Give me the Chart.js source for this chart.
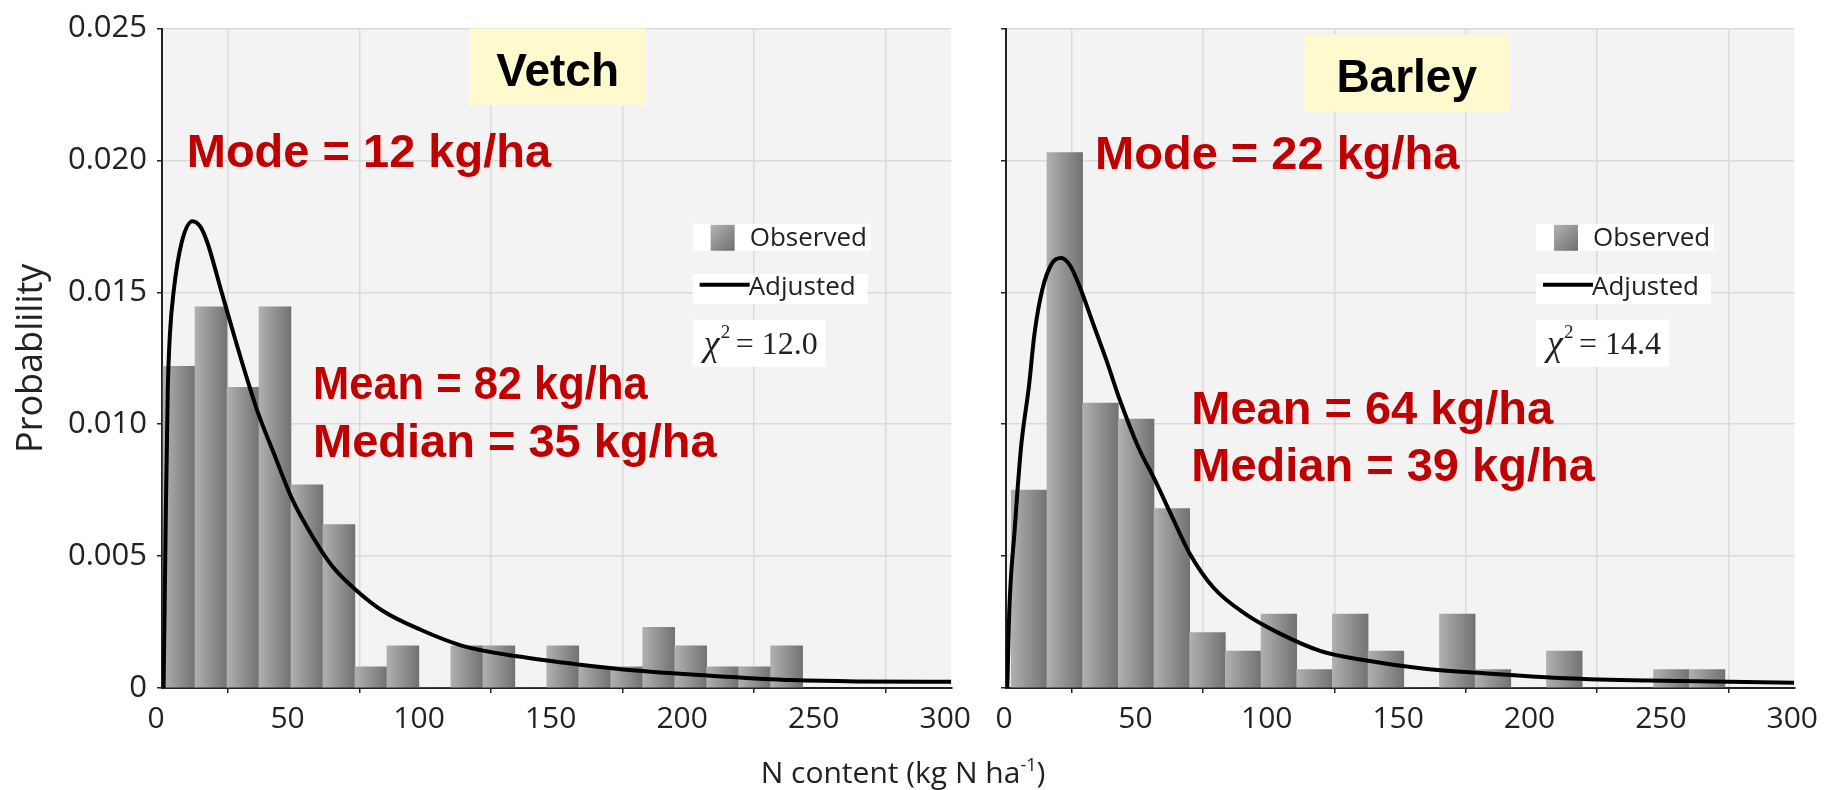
<!DOCTYPE html>
<html>
<head>
<meta charset="utf-8">
<title>N content distribution</title>
<script src="https://cdn.jsdelivr.net/npm/chart.js@4.4.1/dist/chart.umd.min.js"></script>
<style>
  body { margin: 0; background: #fff; width: 1828px; height: 790px; position: relative; overflow: hidden; }
  canvas { position: absolute; top: 0; }
  #vetchChart { left: 0; }
  #barleyChart { left: 985px; }
  #xTitle { position: absolute; left: 0; width: 1806px; top: 751px; text-align: center; font-family: 'Open Sans', sans-serif; font-size: 30px; line-height: 42px; color: #222; }
  #xTitle sup { font-size: 18px; line-height: 0; vertical-align: 12px; }
</style>
</head>
<body>
<canvas id="vetchChart" width="985" height="790"></canvas>
<canvas id="barleyChart" width="843" height="790"></canvas>
<div id="xTitle">N content (kg N ha<sup>-1</sup>)</div>
<script>
// histogram bin centres (kg N/ha) and observed probability per bin
var vetchBins = [6.48, 18.63, 30.79, 42.94, 55.10, 67.25, 79.41, 91.56, 103.72, 115.87,
                 128.03, 140.18, 152.34, 164.49, 176.65, 188.80, 200.96, 213.11, 225.27, 237.42];
var vetchObserved = [0.0122, 0.01445, 0.0114, 0.01445, 0.0077, 0.0062, 0.0008, 0.0016, 0, 0.0016,
                     0.0016, 0, 0.0016, 0.0008, 0.0008, 0.0023, 0.0016, 0.0008, 0.0008, 0.0016];
var barleyBins = [8.79, 22.37, 35.95, 49.53, 63.11, 76.69, 90.27, 103.85, 117.43, 131.01,
                  144.59, 158.17, 171.75, 185.33, 198.91, 212.49, 226.07, 239.65, 253.23, 266.81];
var barleyObserved = [0.0075, 0.0203, 0.0108, 0.0102, 0.0068, 0.0021, 0.0014, 0.0028, 0.0007, 0.0028,
                      0.0014, 0, 0.0028, 0.0007, 0, 0.0014, 0, 0, 0.0007, 0.0007];

// fitted ("Adjusted") density curves
var vetchFitX = [0.6, 1.0, 1.5, 2.2, 3.0, 4.5, 7.5, 11.6, 14.5, 17.2, 22.4, 27.6, 32.1, 36.6, 42.5,
                 49.3, 57.5, 64.9, 73.9, 84.3, 98.5, 114.2, 135, 159, 180, 214, 239, 264, 300];
var vetchFitY = [0, 0.0030, 0.0070, 0.0113, 0.0134, 0.0151, 0.0169, 0.0177, 0.0175, 0.0169, 0.0151,
                 0.0133, 0.0118, 0.0104, 0.0089, 0.0072, 0.0057, 0.0046, 0.0037, 0.0029, 0.0022,
                 0.0016, 0.0012, 0.00088, 0.00066, 0.00043, 0.0003, 0.00025, 0.00024];
var barleyFitX = [0.5, 1.2, 3.3, 5.7, 8.8, 10.8, 13.8, 17.5, 21, 24.5, 28.1, 33.2, 38.3, 43.4, 50.5,
                  56.6, 62.7, 69.9, 79, 91.2, 103.5, 119.8, 136, 158.5, 183, 213, 244, 300];
var barleyFitY = [0, 0.0028, 0.0060, 0.0091, 0.0115, 0.0134, 0.0151, 0.0161, 0.0163, 0.0160, 0.0152,
                  0.0138, 0.0124, 0.0109, 0.0091, 0.0079, 0.0066, 0.0051, 0.0038, 0.0028, 0.0021,
                  0.0014, 0.00106, 0.00074, 0.00055, 0.00037, 0.00028, 0.0002];

var yTickLabels = ['0', '0.005', '0.010', '0.015', '0.020', '0.025'];

var vetchNotes = ['Mode = 12 kg/ha', 'Mean = 82 kg/ha', 'Median = 35 kg/ha'];
var barleyNotes = ['Mode = 22 kg/ha', 'Mean = 64 kg/ha', 'Median = 39 kg/ha'];
var vetchChi = '12.0';
var barleyChi = '14.4';

var axisFont = { family: "'Open Sans', sans-serif", size: 30 };

// grey background, crop name box, red statistics and the small legend
var panelDecor = {
    id: 'panelDecor',
    beforeDraw: function (chart) {
        var a = chart.chartArea, ctx = chart.ctx;
        ctx.save();
        ctx.fillStyle = '#f3f3f3';
        ctx.fillRect(a.left, a.top, a.right - a.left, a.bottom - a.top);
        ctx.restore();
    },
    afterDatasetsDraw: function (chart, args, opts) {
        var ctx = chart.ctx, x = chart.scales.x, y = chart.scales.y;
        ctx.save();

        ctx.font = 'bold 46px "Liberation Sans", Arial, sans-serif';
        var tw = ctx.measureText(opts.name).width;
        var cx = x.getPixelForValue(opts.nameAt);
        var top = chart.chartArea.top + opts.nameDrop;
        ctx.fillStyle = '#fffacd';
        ctx.fillRect(cx - tw / 2 - opts.namePad, top, tw + 2 * opts.namePad, 77);
        ctx.fillStyle = '#000';
        ctx.textAlign = 'center';
        ctx.fillText(opts.name, cx, top + 57);

        ctx.textAlign = 'left';
        ctx.fillStyle = '#c00000';
        ctx.font = 'bold 47px "Liberation Sans", Arial, sans-serif';
        opts.notes.forEach(function (n) {
            ctx.save();
            ctx.translate(x.getPixelForValue(n.x), y.getPixelForValue(n.y));
            ctx.scale(n.squeeze || 1, 1);
            ctx.fillText(n.text, 0, 0);
            ctx.restore();
        });

        var lx = x.getPixelForValue(opts.legendAt[0]);
        var ly = y.getPixelForValue(opts.legendAt[1]);
        ctx.fillStyle = '#fff';
        ctx.fillRect(lx, ly, 178, 27);
        ctx.fillRect(lx, ly + 50, 175, 30);
        ctx.fillRect(lx, ly + 96, 133, 47);
        var g = ctx.createLinearGradient(lx + 18, ly + 1, lx + 42, ly + 27);
        g.addColorStop(0, '#b4b4b4');
        g.addColorStop(1, '#6e6e6e');
        ctx.fillStyle = g;
        ctx.fillRect(lx + 18, ly + 1, 24, 26);
        ctx.strokeStyle = '#000';
        ctx.lineWidth = 4;
        ctx.beginPath();
        ctx.moveTo(lx + 7, ly + 61);
        ctx.lineTo(lx + 57, ly + 61);
        ctx.stroke();
        ctx.fillStyle = '#222';
        ctx.font = "26px 'Open Sans', sans-serif";
        ctx.fillText('Observed', lx + 57, ly + 22);
        ctx.fillText('Adjusted', lx + 56, ly + 71);
        ctx.font = 'italic 36px "Liberation Serif", serif';
        ctx.fillText('\u03c7', lx + 11, ly + 131);
        ctx.font = '19px "Liberation Serif", serif';
        ctx.fillText('2', lx + 28, ly + 114);
        ctx.font = '32px "Liberation Serif", serif';
        ctx.fillText('= ' + opts.chi, lx + 43, ly + 130);
        ctx.restore();
    }
};

// each bar shades from light grey on its left edge to dark grey on its right
function barFill(bins) {
    var half = (bins[1] - bins[0]) / 2;
    return function (ctx) {
        if (ctx.type !== 'data') return '#909090';
        var x = ctx.chart.scales.x;
        var c = bins[ctx.dataIndex];
        var l = x ? x.getPixelForValue(c - half) : NaN;
        var r = x ? x.getPixelForValue(c + half) : NaN;
        if (!isFinite(l) || !isFinite(r)) return '#909090';
        var g = ctx.chart.ctx.createLinearGradient(l, 0, r, 0);
        g.addColorStop(0, '#b0b0b0');
        g.addColorStop(1, '#727272');
        return g;
    };
}

function createPanel(canvasId, bins, observed, fitX, fitY, decor, withLabels, axisWidth, padRight, labelShift) {
    var ctx = document.getElementById(canvasId).getContext('2d');
    new Chart(ctx, {
        type: 'bar',
        data: {
            datasets: [{
                type: 'line',
                label: 'Adjusted',
                data: fitX.map(function (v, i) { return { x: v, y: fitY[i] }; }),
                borderColor: '#000',
                borderWidth: 4,
                pointRadius: 0,
                cubicInterpolationMode: 'monotone',
                fill: false,
                order: 1
            }, {
                type: 'bar',
                label: 'Observed',
                data: bins.map(function (v, i) { return { x: v, y: observed[i] }; }),
                backgroundColor: barFill(bins),
                borderWidth: 0,
                barPercentage: 1,
                categoryPercentage: 1,
                order: 2
            }]
        },
        plugins: [panelDecor],
        options: {
            responsive: false,
            animation: false,
            layout: { autoPadding: false, padding: { left: 0, top: 26, right: padRight, bottom: 0 } },
            plugins: {
                legend: { display: false },
                tooltip: { enabled: false },
                panelDecor: decor
            },
            scales: {
                x: {
                    type: 'linear',
                    min: 0,
                    max: 300,
                    offset: false,
                    ticks: { stepSize: 50, font: axisFont, color: '#222', padding: 8, labelOffset: labelShift, maxRotation: 0, autoSkip: false },
                    grid: { color: '#dadada', lineWidth: 1.5, tickColor: '#222', tickLength: 5 },
                    border: { color: '#222', width: 2 },
                    afterFit: function (s) { s.height = 102; }
                },
                y: {
                    min: 0,
                    max: 0.025,
                    ticks: {
                        stepSize: 0.005,
                        font: { family: "'Open Sans', sans-serif", size: 31 },
                        color: '#222',
                        padding: 10,
                        callback: function (v, i) { return withLabels ? yTickLabels[i] : ''; }
                    },
                    title: {
                        display: withLabels,
                        text: 'Probablility',
                        font: { family: "'Open Sans', sans-serif", size: 36 },
                        color: '#222',
                        padding: { top: 10, bottom: 0 }
                    },
                    grid: { color: '#dadada', lineWidth: 1.5, tickColor: '#222', tickLength: 5 },
                    border: { color: '#222', width: 2 },
                    afterFit: function (s) { s.width = axisWidth; }
                }
            }
        }
    });
}

createPanel('vetchChart', vetchBins, vetchObserved, vetchFitX, vetchFitY, {
    name: 'Vetch', nameAt: 150.4, nameDrop: 0, namePad: 27,
    notes: [
        { text: vetchNotes[0], x: 9.4, y: 0.01974 },
        { text: vetchNotes[1], x: 57.4, y: 0.01094, squeeze: 0.925 },
        { text: vetchNotes[2], x: 57.4, y: 0.00875 }
    ],
    legendAt: [201.7, 0.0176],
    chi: vetchChi
}, true, 162, 23, -6);

createPanel('barleyChart', barleyBins, barleyObserved, barleyFitX, barleyFitY, {
    name: 'Barley', nameAt: 152.5, nameDrop: 6, namePad: 32,
    notes: [
        { text: barleyNotes[0], x: 33.9, y: 0.01966 },
        { text: barleyNotes[1], x: 70.5, y: 0.0100 },
        { text: barleyNotes[2], x: 70.5, y: 0.00785 }
    ],
    legendAt: [201.7, 0.0176],
    chi: barleyChi
}, false, 21, 24, -2);
</script>
</body>
</html>
